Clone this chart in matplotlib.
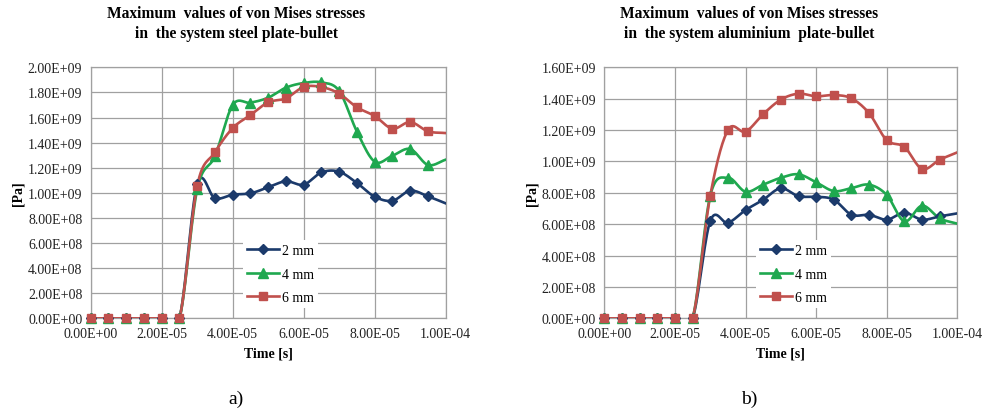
import numpy as np
import matplotlib
matplotlib.use('Agg')
import matplotlib.pyplot as plt
from matplotlib.ticker import FuncFormatter, MultipleLocator

# time axis: one sample every 5 microseconds
time = np.arange(21) * 5e-6

# steel plate (values in units of 1e9 Pa)
steel_2mm = [0, 0, 0, 0, 0, 0, 1.068, 0.956, 0.985, 0.996, 1.044, 1.092,
             1.065, 1.163, 1.168, 1.078, 0.969, 0.937, 1.017, 0.972, 0.916]
steel_4mm = [0, 0, 0, 0, 0, 0, 1.028, 1.293, 1.700, 1.718, 1.758, 1.838,
             1.875, 1.880, 1.811, 1.487, 1.248, 1.296, 1.349, 1.222, 1.264]
steel_6mm = [0, 0, 0, 0, 0, 0, 1.057, 1.323, 1.516, 1.620, 1.721, 1.753,
             1.843, 1.843, 1.790, 1.681, 1.612, 1.511, 1.564, 1.490, 1.476]

# aluminium plate
alu_2mm = [0, 0, 0, 0, 0, 0, 0.620, 0.609, 0.690, 0.756, 0.829, 0.778,
           0.775, 0.756, 0.660, 0.660, 0.629, 0.673, 0.629, 0.650, 0.669]
alu_4mm = [0, 0, 0, 0, 0, 0, 0.782, 0.896, 0.807, 0.852, 0.896, 0.918,
           0.867, 0.811, 0.830, 0.852, 0.786, 0.618, 0.718, 0.637, 0.603]
alu_6mm = [0, 0, 0, 0, 0, 0, 0.782, 1.200, 1.190, 1.302, 1.394, 1.432,
           1.415, 1.423, 1.402, 1.307, 1.135, 1.092, 0.952, 1.011, 1.058]

labels = ['2 mm', '4 mm', '6 mm']
colors = ['#1b3a6b', '#1fa84f', '#c0504d']
markers = ['D', '^', 's']
msizes = [5.5, 7.5, 6]

plt.rcParams['font.family'] = ['Liberation Serif', 'DejaVu Serif']


def smooth(x, y, sx, sy, n=16):
    # catmull-rom spline built in screen-like units (sx, sy = px per data unit)
    p = np.column_stack([np.asarray(x, float) * sx, np.asarray(y, float) * sy])
    t_ = np.vstack([p[1] - p[0], (p[2:] - p[:-2]) / 2, p[-1] - p[-2]])
    out = []
    t = np.linspace(0, 1, n, endpoint=False)[:, None]
    h00 = 2 * t**3 - 3 * t**2 + 1
    h10 = t**3 - 2 * t**2 + t
    h01 = -2 * t**3 + 3 * t**2
    h11 = t**3 - t**2
    for i in range(len(p) - 1):
        out.append(h00 * p[i] + h10 * t_[i] + h01 * p[i + 1] + h11 * t_[i + 1])
    out.append(p[-1:])
    out = np.vstack(out)
    return out[:, 0] / sx, out[:, 1] / sy


def sci(v, pos):
    return '{:.2E}'.format(v)


fig = plt.figure(figsize=(9.87, 4.14), dpi=100)
panels = [
    (0.0919, 0.3597, [steel_2mm, steel_4mm, steel_6mm], 2.0e9,
     'Maximum  values of von Mises stresses\nin  the system steel plate-bullet', 'a)'),
    (0.6123, 0.3577, [alu_2mm, alu_4mm, alu_6mm], 1.6e9,
     'Maximum  values of von Mises stresses\nin  the system aluminium  plate-bullet', 'b)'),
]

for left, width, series, ymax, title, tag in panels:
    ax = fig.add_axes([left, 0.2287, width, 0.6063])
    # pixel scale of each axis, so the smoothing behaves like it does on screen
    px_x = width * 987 / 1e-4
    px_y = 0.6063 * 414 / ymax
    for y, lab, c, mk, ms in zip(series, labels, colors, markers, msizes):
        yv = np.asarray(y) * 1e9
        cx_, cy_ = smooth(time, yv, px_x, px_y)
        ax.plot(cx_, cy_, color=c, lw=1.9, zorder=3)
        ax.plot(time[:-1], yv[:-1], ls='none', marker=mk,
                ms=ms, color=c, zorder=4, clip_on=False)
        ax.plot([], [], color=c, lw=1.9, marker=mk, ms=ms, label=lab)
    ax.set_xlim(0, 1e-4)
    ax.set_ylim(0, ymax)
    ax.xaxis.set_major_locator(MultipleLocator(2e-5))
    ax.yaxis.set_major_locator(MultipleLocator(2e8))
    ax.xaxis.set_major_formatter(FuncFormatter(sci))
    ax.yaxis.set_major_formatter(FuncFormatter(sci))
    ax.grid(True, color='#a0a0a0', lw=0.9)
    ax.set_axisbelow(True)
    for s in ax.spines.values():
        s.set_color('#a0a0a0')
        s.set_linewidth(0.9)
    ax.tick_params(length=0, labelsize=10, pad=6, colors='#222222')
    ax.set_xlabel('Time [s]', fontsize=10, fontweight='bold', labelpad=5)
    ax.set_ylabel('[Pa]', fontsize=10, fontweight='bold', labelpad=2)
    leg = ax.legend(loc='center', bbox_to_anchor=(0.535, 0.176), fontsize=10,
                    frameon=True, fancybox=False, handlelength=2.3,
                    handletextpad=0.2, labelspacing=0.75, borderpad=0.3)
    leg.get_frame().set_edgecolor('none')
    leg.get_frame().set_facecolor('white')
    leg.get_frame().set_alpha(1)
    cx = left + width * 0.41
    fig.text(cx, 0.985, title, ha='center', va='top', fontsize=11.2,
             fontweight='bold', linespacing=1.35)
    fig.text(cx, 0.035, tag, ha='center', va='center', fontsize=14)

fig.savefig('out.png', dpi=100)
